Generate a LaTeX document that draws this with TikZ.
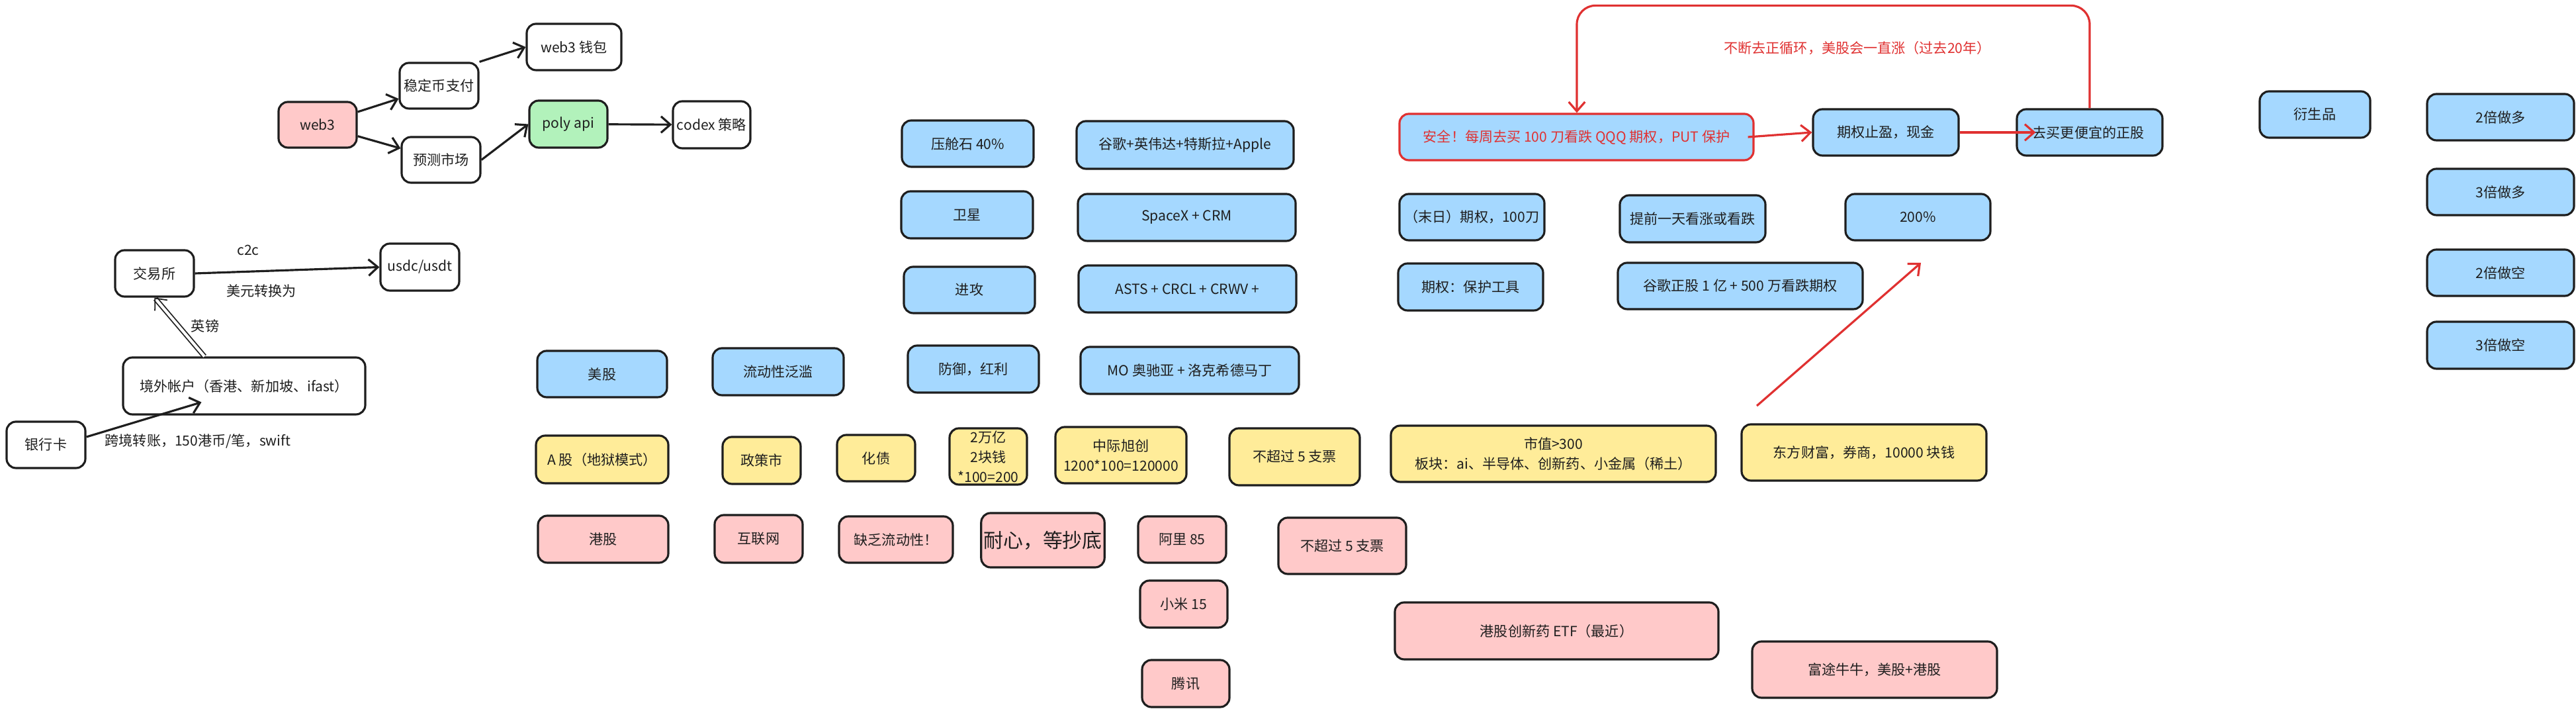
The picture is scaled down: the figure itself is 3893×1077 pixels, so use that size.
\documentclass[tikz,border=0pt]{standalone}
\usepackage{fontspec}
\setmainfont{Noto Sans CJK SC}
\usetikzlibrary{arrows.meta}
\definecolor{cblue}{HTML}{A5D8FF}
\definecolor{cyel}{HTML}{FFEC99}
\definecolor{cpink}{HTML}{FFC9C9}
\definecolor{cgreen}{HTML}{B2F2BB}
\definecolor{cred}{HTML}{E03131}
\definecolor{cink}{HTML}{1E1E1E}
\tikzset{
  box/.style={draw=cink, line width=0.9pt, rounded corners=4pt, align=center, inner sep=1pt, font=\fontsize{6}{8.5}\selectfont, text=cink},
  arr/.style={draw=cink, line width=0.9pt, -{Straight Barb[length=4pt,width=7pt]}},
  rarr/.style={draw=cred, line width=0.9pt, -{Straight Barb[length=4pt,width=7pt]}},
  lbl/.style={font=\fontsize{6}{8.5}\selectfont, text=cink, inner sep=0pt},
}
\newcommand{\bx}[7][]{\node[box, fill=#7, minimum width={(#4-#2)*0.01cm}, minimum height={(#5-#3)*0.01cm}, #1] (#6) at ({(#2+#4)/2},{(#3+#5)/2})}
\begin{document}
\begin{tikzpicture}[x=0.01cm,y=-0.01cm]
\useasboundingbox[fill=white] (0,0) rectangle (3893,1077);
% web3 cluster
\bx{421}{154}{539}{223}{web3}{cpink} {web3};
\bx{604}{95}{723}{164}{stable}{white} {稳定币支付};
\bx{796}{36}{939}{106}{wallet}{white} {web3 钱包};
\bx{607}{207}{726}{276}{predict}{white} {预测市场};
\bx{800}{152}{918}{223}{poly}{cgreen} {poly api};
\bx{1017}{153}{1134}{224}{codex}{white} {codex 策略};
\draw[arr] (web3) -- (stable);
\draw[arr] (stable.north east) -- (wallet.west);
\draw[arr] (web3) -- (predict);
\draw[arr] (predict.east) -- (poly.west);
\draw[arr] (poly) -- (codex);
% exchange cluster
\bx{174}{378}{293}{448}{ex}{white} {交易所};
\bx{575}{368}{694}{439}{usdc}{white} {usdc/usdt};
\bx{186}{540}{552}{626}{abroad}{white} {境外帐户（香港、新加坡、ifast）};
\bx{10}{637}{129}{707}{bank}{white} {银行卡};
\draw[arr] (ex.east) -- (usdc.west);
\node[lbl] (c2c) at (375,378) {c2c};
\node[lbl] (usd) at (395,439) {美元转换为};
\draw[cink, line width=0.5pt, double distance=1.2pt, -{Straight Barb[length=4pt,width=7pt]}] ([xshift=-0.6cm]abroad.north) -- (ex.south);
\node[lbl] (gbp) at (310,492) {英镑};
\draw[arr] ([yshift=0.12cm]bank.east) -- ([xshift=1.2cm,yshift=0.2cm]abroad.south west);
\node[lbl, anchor=west] (swift) at (158,666) {跨境转账，150港币/笔，swift};
% US stocks
\bx{812}{530}{1008}{600}{us}{cblue} {美股};
\bx{1077}{526}{1275}{597}{liq}{cblue} {流动性泛滥};
\bx{1363}{182}{1562}{252}{ballast}{cblue} {压舱石 40\%};
\bx{1627}{183}{1955}{255}{goog}{cblue} {谷歌+英伟达+特斯拉+Apple};
\bx{1362}{289}{1561}{360}{sat}{cblue} {卫星};
\bx{1629}{293}{1958}{364}{spacex}{cblue} {SpaceX + CRM};
\bx{1366}{403}{1564}{473}{atk}{cblue} {进攻};
\bx{1630}{401}{1959}{472}{asts}{cblue} {ASTS + CRCL + CRWV +};
\bx{1372}{522}{1570}{593}{def}{cblue} {防御，红利};
\bx{1633}{524}{1963}{595}{mo}{cblue} {MO 奥驰亚 + 洛克希德马丁};
% A shares
\bx{810}{658}{1010}{730}{ash}{cyel} {A 股（地狱模式）};
\bx{1092}{660}{1210}{731}{policy}{cyel} {政策市};
\bx{1265}{657}{1383}{727}{debt}{cyel} {化债};
\bx{1435}{647}{1552}{732}{tril}{cyel} {2万亿\\2块钱\\*100=200};
\bx{1595}{645}{1793}{730}{zjxc}{cyel} {中际旭创\\1200*100=120000};
\bx{1858}{647}{2055}{733}{five}{cyel} {不超过 5 支票};
\bx{2102}{643}{2593}{728}{cap}{cyel} {市值>300\\板块：ai、半导体、创新药、小金属（稀土）};
\bx{2632}{641}{3002}{726}{dfcf}{cyel} {东方财富，券商，10000 块钱};
% HK
\bx{813}{779}{1010}{850}{hk}{cpink} {港股};
\bx{1080}{778}{1213}{850}{net}{cpink} {互联网};
\bx{1268}{780}{1440}{850}{lack}{cpink} {缺乏流动性！};
\bx[font=\fontsize{8.5}{10}\selectfont]{1485}{775}{1667}{857}{patient}{cpink} {耐心，等抄底};
\bx{1720}{780}{1853}{850}{ali}{cpink} {阿里 85};
\bx{1723}{877}{1855}{948}{mi}{cpink} {小米 15};
\bx{1726}{997}{1858}{1068}{tx}{cpink} {腾讯};
\bx{1932}{782}{2125}{867}{fivehk}{cpink} {不超过 5 支票};
\bx{2108}{910}{2597}{996}{etf}{cpink} {港股创新药 ETF（最近）};
\bx{2648}{969}{3018}{1054}{futu}{cpink} {富途牛牛，美股+港股};
% options
\bx[draw=cred, text=cred]{2115}{172}{2650}{242}{safe}{cblue} {安全！每周去买 100 刀看跌 QQQ 期权，PUT 保护};
\bx{2740}{165}{2960}{235}{tp}{cblue} {期权止盈，现金};
\bx[text width=1.95cm, align=right]{3048}{165}{3268}{235}{cheap}{cblue} {去买更便宜的正股\hspace*{0.15cm}};
\bx{2115}{293}{2334}{363}{dday}{cblue} {（末日）期权，100刀};
\bx{2448}{295}{2668}{366}{pred}{cblue} {提前一天看涨或看跌};
\bx{2789}{293}{3008}{363}{p200}{cblue} {200\%};
\bx{2113}{398}{2332}{469}{prot}{cblue} {期权：保护工具};
\bx{2445}{397}{2815}{467}{googput}{cblue} {谷歌正股 1 亿 + 500 万看跌期权};
\draw[rarr] ([xshift=-0.1cm]safe.east) -- (tp.west);
\draw[rarr] (tp.east) -- ([xshift=0.3cm]cheap.west);
\draw[rarr, rounded corners=8pt] (cheap.north) -- ++(0,-155) -| (safe.north -| 2383,0);
\node[lbl, text=cred] (loop) at (2807,73) {不断去正循环，美股会一直涨（过去20年）};
\coordinate (rs) at (2655,613);
\coordinate (re) at (2903,397);
\draw[rarr] (rs) -- (re);
% derivatives
\bx{3415}{138}{3582}{208}{deriv}{cblue} {衍生品};
\bx{3668}{142}{3890}{212}{l2}{cblue} {2倍做多};
\bx{3668}{255}{3890}{325}{l3}{cblue} {3倍做多};
\bx{3668}{377}{3890}{447}{s2}{cblue} {2倍做空};
\bx{3668}{486}{3890}{557}{s3}{cblue} {3倍做空};
\end{tikzpicture}
\end{document}
